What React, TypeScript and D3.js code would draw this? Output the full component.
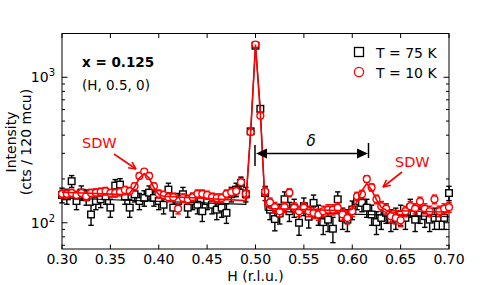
import { useRef, useEffect } from "react";
import * as d3 from "d3";

// scan grid along H (r.l.u.), 0.300 .. 0.700 in steps of 0.005
const hStart = 0.3;
const hStep = 0.005;
const nPoints = 81;

// T = 75 K (black squares)
const counts75K = [
  155, 152, 193, 141, 161, 150, 114, 141, 145, 152,
  127, 180, 183, 152, 127, 157, 141, 148, 161, 148,
  141, 133, 169, 127, 141, 157, 127, 141, 133, 120,
  141, 133, 123, 127, 117, 157, 169, 188, 157, 425,
  1650, 607, 160, 123, 106, 116, 145, 120, 127, 100,
  130, 110, 137, 114, 101, 105, 91, 145, 108, 105,
  123, 141, 137, 127, 114, 101, 108, 117, 105, 108,
  114, 108, 127, 105, 117, 111, 105, 108, 108, 108,
  160,
];

// T = 10 K (red circles)
const counts10K = [
  158, 158, 160, 155, 160, 152, 160, 161, 163, 165,
  160, 160, 163, 168, 165, 178, 210, 225, 210, 178,
  158, 155, 150, 150, 125, 148, 145, 150, 158, 158,
  155, 150, 148, 148, 158, 162, 165, 190, 158, 420,
  1680, 545, 164, 138, 128, 120, 128, 161, 127, 120,
  127, 120, 117, 114, 120, 123, 123, 127, 114, 108,
  120, 152, 157, 200, 175, 145, 130, 125, 111, 108,
  104, 120, 130, 125, 140, 125, 120, 145, 120, 125,
  128,
];

const err75K = 18;
const err10K = 10;

// fit curves
const fit75KH = [0.3, 0.49, 0.495, 0.5, 0.505, 0.51, 0.55, 0.7];
const fit75KV = [148, 134, 425, 1650, 605, 122, 117, 110];

const fit10KH = [
  0.3, 0.365, 0.37, 0.375, 0.38, 0.385, 0.39, 0.395, 0.4, 0.405, 0.49, 0.495,
  0.5, 0.505, 0.51, 0.515, 0.595, 0.6, 0.605, 0.61, 0.615, 0.62, 0.625, 0.63,
  0.635, 0.7,
];
const fit10KV = [
  162, 156, 160, 176, 203, 218, 203, 174, 156, 152, 142, 420,
  1680, 560, 132, 125, 121, 124, 140, 166, 186, 168, 144, 128,
  122, 118,
];

const xTicks = [0.3, 0.35, 0.4, 0.45, 0.5, 0.55, 0.6, 0.65, 0.7];
const yMajor = [100, 1000];
const yMajorExp = ["2", "3"];
const yMinor = [70, 80, 90, 200, 300, 400, 500, 600, 700, 800, 900];

const FONT = "DejaVu Sans, sans-serif";

export default function App() {
  const svgRef = useRef(null);
  const width = 498;
  const height = 285;
  const left = 62;
  const right = 449;
  const top = 33.5;
  const bottom = 249;

  useEffect(() => {
    const svg = d3.select(svgRef.current);
    svg.selectAll("*").remove();

    const x = d3.scaleLinear().domain([0.3, 0.7]).range([left, right]);
    const y = d3.scaleLog().domain([66, 2000]).range([bottom, top]);

    const hs = d3.range(nPoints).map((i) => hStart + i * hStep);

    // axes frame
    svg
      .append("rect")
      .attr("x", left)
      .attr("y", top)
      .attr("width", right - left)
      .attr("height", bottom - top)
      .attr("fill", "none")
      .attr("stroke", "#000")
      .attr("stroke-width", 1);

    // x ticks (inward, bottom and top)
    xTicks.forEach((t) => {
      const px = x(t);
      svg.append("line").attr("x1", px).attr("x2", px).attr("y1", bottom).attr("y2", bottom - 4.5).attr("stroke", "#000");
      svg.append("line").attr("x1", px).attr("x2", px).attr("y1", top).attr("y2", top + 4.5).attr("stroke", "#000");
      svg
        .append("text")
        .attr("x", px)
        .attr("y", 263.5)
        .attr("text-anchor", "middle")
        .attr("font-family", FONT)
        .attr("font-size", 14)
        .text(t.toFixed(2));
    });

    // y ticks
    yMajor.forEach((v, i) => {
      const py = y(v);
      svg.append("line").attr("x1", left).attr("x2", left + 5.5).attr("y1", py).attr("y2", py).attr("stroke", "#000");
      svg.append("line").attr("x1", right).attr("x2", right - 5.5).attr("y1", py).attr("y2", py).attr("stroke", "#000");
      const lbl = svg
        .append("text")
        .attr("x", 55)
        .attr("y", py + 5)
        .attr("text-anchor", "end")
        .attr("font-family", FONT)
        .attr("font-size", 14);
      lbl.append("tspan").text("10");
      lbl.append("tspan").attr("dy", -6).attr("font-size", 10).text(yMajorExp[i]);
    });
    yMinor.forEach((v) => {
      const py = y(v);
      svg.append("line").attr("x1", left).attr("x2", left + 3).attr("y1", py).attr("y2", py).attr("stroke", "#000");
      svg.append("line").attr("x1", right).attr("x2", right - 3).attr("y1", py).attr("y2", py).attr("stroke", "#000");
    });

    // axis labels
    svg
      .append("text")
      .attr("x", (left + right) / 2)
      .attr("y", 281)
      .attr("text-anchor", "middle")
      .attr("font-family", FONT)
      .attr("font-size", 14)
      .text("H (r.l.u.)");
    const yl = svg
      .append("text")
      .attr("transform", "translate(16,142) rotate(-90)")
      .attr("text-anchor", "middle")
      .attr("font-family", FONT)
      .attr("font-size", 14);
    yl.append("tspan").attr("x", 0).attr("y", 0).text("Intensity");
    yl.append("tspan").attr("x", 0).attr("y", 15).text("(cts / 120 mcu)");

    const drawSeries = (vals, err, color, kind) => {
      const g = svg.append("g");
      vals.forEach((v, i) => {
        const px = x(hs[i]);
        const y1 = y(v - err);
        const y2 = y(v + err);
        g.append("line").attr("x1", px).attr("x2", px).attr("y1", y1).attr("y2", y2).attr("stroke", color).attr("stroke-width", 1.4);
        g.append("line").attr("x1", px - 2.7).attr("x2", px + 2.7).attr("y1", y1).attr("y2", y1).attr("stroke", color).attr("stroke-width", 1.4);
        g.append("line").attr("x1", px - 2.7).attr("x2", px + 2.7).attr("y1", y2).attr("y2", y2).attr("stroke", color).attr("stroke-width", 1.4);
      });
      vals.forEach((v, i) => {
        const px = x(hs[i]);
        const py = y(v);
        if (kind === "square") {
          g.append("rect")
            .attr("x", px - 3.3)
            .attr("y", py - 3.3)
            .attr("width", 6.6)
            .attr("height", 6.6)
            .attr("fill", "#fff")
            .attr("stroke", color)
            .attr("stroke-width", 1.4);
        } else {
          g.append("circle")
            .attr("cx", px)
            .attr("cy", py)
            .attr("r", 3.4)
            .attr("fill", "#fff")
            .attr("stroke", color)
            .attr("stroke-width", 1.4);
        }
      });
    };

    const line = d3
      .line()
      .x((d) => x(d[0]))
      .y((d) => y(d[1]));

    drawSeries(counts75K, err75K, "#000", "square");
    svg
      .append("path")
      .attr("d", line(fit75KH.map((h, i) => [h, fit75KV[i]])))
      .attr("fill", "none")
      .attr("stroke", "#000")
      .attr("stroke-width", 1.2);

    drawSeries(counts10K, err10K, "#f00", "circle");
    svg
      .append("path")
      .attr("d", line(fit10KH.map((h, i) => [h, fit10KV[i]])))
      .attr("fill", "none")
      .attr("stroke", "#f00")
      .attr("stroke-width", 1.6);

    // text annotations
    svg
      .append("text")
      .attr("x", 82)
      .attr("y", 66.5)
      .attr("font-family", FONT)
      .attr("font-size", 13.5)
      .attr("font-weight", "bold")
      .text("x = 0.125");
    svg
      .append("text")
      .attr("x", 82)
      .attr("y", 90)
      .attr("font-family", FONT)
      .attr("font-size", 13.5)
      .text("(H, 0.5, 0)");

    // legend
    svg
      .append("rect")
      .attr("x", 354.5)
      .attr("y", 47.5)
      .attr("width", 9)
      .attr("height", 9)
      .attr("fill", "none")
      .attr("stroke", "#000")
      .attr("stroke-width", 1.3);
    svg
      .append("text")
      .attr("x", 376)
      .attr("y", 57.5)
      .attr("font-family", FONT)
      .attr("font-size", 14)
      .text("T = 75 K");
    svg
      .append("circle")
      .attr("cx", 359)
      .attr("cy", 72)
      .attr("r", 4.6)
      .attr("fill", "none")
      .attr("stroke", "#f00")
      .attr("stroke-width", 1.3);
    svg
      .append("text")
      .attr("x", 376)
      .attr("y", 77.5)
      .attr("font-family", FONT)
      .attr("font-size", 14)
      .text("T = 10 K");

    // SDW labels and arrows
    const openArrow = (x1, y1, x2, y2, color) => {
      svg.append("line").attr("x1", x1).attr("y1", y1).attr("x2", x2).attr("y2", y2).attr("stroke", color).attr("stroke-width", 1.6);
      const a = Math.atan2(y2 - y1, x2 - x1);
      const L = 8;
      [0.45, -0.45].forEach((da) => {
        svg
          .append("line")
          .attr("x1", x2)
          .attr("y1", y2)
          .attr("x2", x2 - L * Math.cos(a + da))
          .attr("y2", y2 - L * Math.sin(a + da))
          .attr("stroke", color)
          .attr("stroke-width", 1.6);
      });
    };
    svg
      .append("text")
      .attr("x", 82)
      .attr("y", 148)
      .attr("fill", "#f00")
      .attr("font-family", FONT)
      .attr("font-size", 14.5)
      .text("SDW");
    openArrow(114, 154, 136, 169, "#f00");
    svg
      .append("text")
      .attr("x", 395)
      .attr("y", 167)
      .attr("fill", "#f00")
      .attr("font-family", FONT)
      .attr("font-size", 14.5)
      .text("SDW");
    openArrow(402, 172, 383, 187, "#f00");

    // delta double arrow
    const ay = 153.5;
    const xa = 256;
    const xb = 368;
    svg.append("line").attr("x1", xa + 6).attr("x2", xb - 6).attr("y1", ay).attr("y2", ay).attr("stroke", "#000").attr("stroke-width", 1.5);
    svg.append("path").attr("d", `M${xa},${ay}L${xa + 11},${ay - 5}L${xa + 11},${ay + 5}Z`).attr("fill", "#000");
    svg.append("path").attr("d", `M${xb},${ay}L${xb - 11},${ay - 5}L${xb - 11},${ay + 5}Z`).attr("fill", "#000");
    svg.append("line").attr("x1", 255).attr("x2", 255).attr("y1", 145).attr("y2", 166).attr("stroke", "#000").attr("stroke-width", 1.5);
    svg.append("line").attr("x1", 368.5).attr("x2", 368.5).attr("y1", 143).attr("y2", 158).attr("stroke", "#000").attr("stroke-width", 1.5);
    svg
      .append("text")
      .attr("x", 311)
      .attr("y", 146)
      .attr("text-anchor", "middle")
      .attr("font-family", FONT)
      .attr("font-style", "italic")
      .attr("font-size", 15)
      .text("δ");
  }, []);

  return (
    <div style={{ position: "fixed", left: 0, top: 0 }}>
      <svg ref={svgRef} width={width} height={height} style={{ display: "block", background: "#fff" }} />
    </div>
  );
}
